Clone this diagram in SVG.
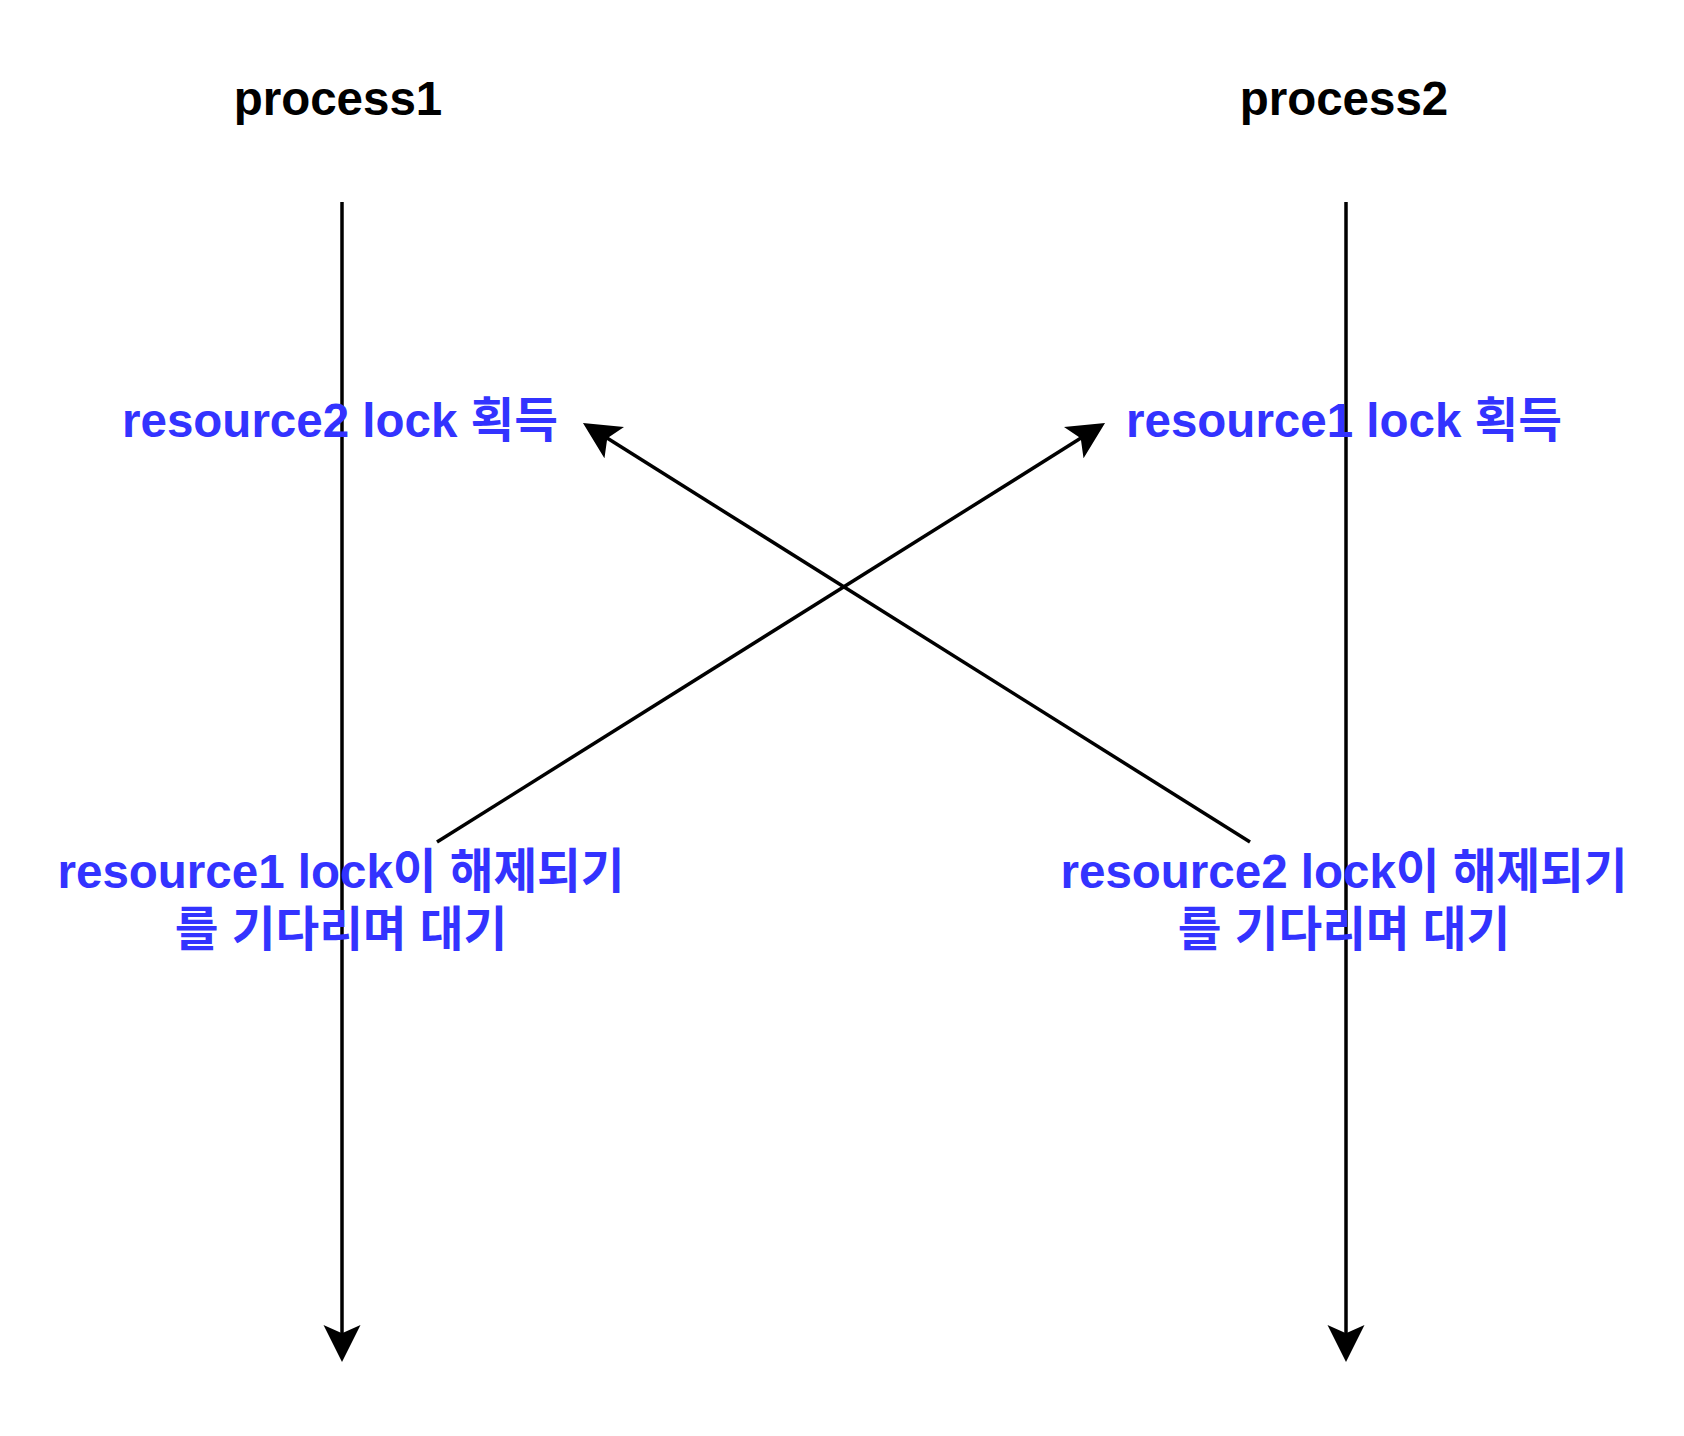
<svg xmlns="http://www.w3.org/2000/svg" width="1684" height="1436" viewBox="0 0 1684 1436">
  <style>
    .lbl { font-family: "Liberation Sans", "Noto Sans CJK KR", sans-serif; font-weight: bold; font-size: 47.5px; text-anchor: middle; }
    .head { fill: #000000; }
    .note { fill: #3333ff; }
    .edge { stroke: #000000; stroke-width: 3.5; fill: none; }
  </style>
  <defs>
    <marker id="arrow" viewBox="0 -19 38 38" markerWidth="38" markerHeight="38" markerUnits="userSpaceOnUse" refX="17" refY="0" orient="auto">
      <path d="M37,0 L0,-18.5 L8.3,0 L0,18.5 Z" fill="#000000"/>
    </marker>
  </defs>
  <rect width="1684" height="1436" fill="#ffffff"/>

  <g id="connectors">
    <line class="edge" x1="342" y1="202" x2="342" y2="1342" marker-end="url(#arrow)"/>
    <line class="edge" x1="1346" y1="202" x2="1346" y2="1342" marker-end="url(#arrow)"/>
    <line class="edge" x1="437" y1="842" x2="1088.1" y2="433.6" marker-end="url(#arrow)"/>
    <line class="edge" x1="1250" y1="842" x2="599.9" y2="433.6" marker-end="url(#arrow)"/>
  </g>

  <g id="process1">
    <text class="lbl head" x="338" y="115">process1</text>
  </g>
  <g id="process2">
    <text class="lbl head" x="1344" y="115">process2</text>
  </g>
  <g id="p1-acquire">
    <text class="lbl note" x="340" y="437">resource2 lock 획득</text>
  </g>
  <g id="p2-acquire">
    <text class="lbl note" x="1344" y="437">resource1 lock 획득</text>
  </g>
  <g id="p1-wait">
    <text class="lbl note" x="341" y="888">resource1 lock이 해제되기</text>
    <text class="lbl note" x="341" y="946">를 기다리며 대기</text>
  </g>
  <g id="p2-wait">
    <text class="lbl note" x="1344" y="888">resource2 lock이 해제되기</text>
    <text class="lbl note" x="1344" y="946">를 기다리며 대기</text>
  </g>
</svg>
